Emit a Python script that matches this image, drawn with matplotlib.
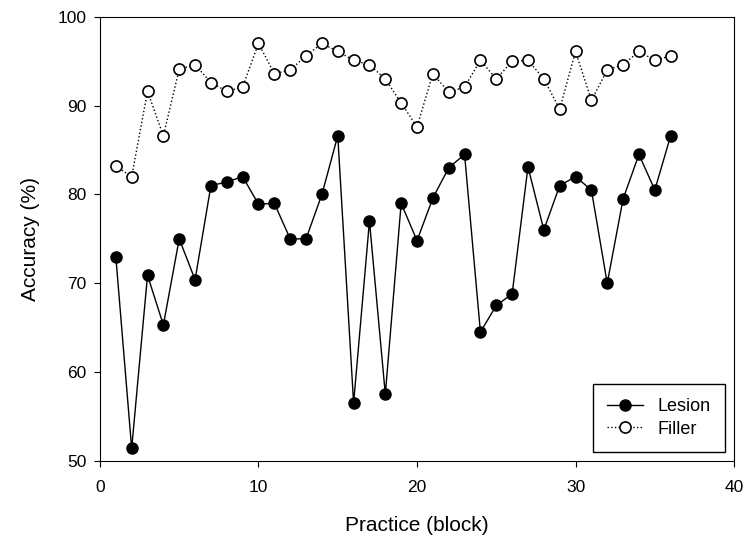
import matplotlib
matplotlib.use("Agg")
import matplotlib.pyplot as plt

plt.rcParams['font.family'] = ['Liberation Sans', 'DejaVu Sans']

blocks = list(range(1, 37))
lesion = [73.0, 51.4, 70.9, 65.3, 75.0, 70.4, 81.0, 81.4, 82.0, 78.9,
          79.0, 75.0, 75.0, 80.0, 86.6, 56.5, 77.0, 57.5, 79.0, 74.8,
          79.6, 83.0, 84.5, 64.5, 67.5, 68.8, 83.1, 76.0, 81.0, 82.0,
          80.5, 70.0, 79.5, 84.5, 80.5, 86.6]
filler = [83.2, 82.0, 91.6, 86.6, 94.1, 94.6, 92.6, 91.6, 92.1, 97.0,
          93.6, 94.0, 95.6, 97.0, 96.1, 95.1, 94.6, 93.0, 90.3, 87.6,
          93.6, 91.5, 92.1, 95.1, 93.0, 95.0, 95.1, 93.0, 89.6, 96.1,
          90.6, 94.0, 94.6, 96.1, 95.1, 95.6]

fig = plt.figure(figsize=(7.46, 5.41), dpi=100)
ax = fig.add_axes([0.134, 0.148, 0.850, 0.821])

ax.plot(blocks, lesion, color='black', linestyle='-', linewidth=1,
        marker='o', markersize=8, markerfacecolor='black',
        markeredgecolor='black', label='Lesion')
ax.plot(blocks, filler, color='black', linestyle=':', linewidth=1,
        marker='o', markersize=8, markerfacecolor='white',
        markeredgecolor='black', markeredgewidth=1.2, label='Filler')

ax.set_xlim(0, 40)
ax.set_ylim(50, 100)
ax.set_xticks([0, 10, 20, 30, 40])
ax.set_yticks([50, 60, 70, 80, 90, 100])
ax.tick_params(direction='out', length=4.5, labelsize=12.5, top=False, right=False)
ax.tick_params(axis='x', pad=9)
ax.tick_params(axis='y', pad=5)
ax.set_xlabel('Practice (block)', fontsize=15, labelpad=15)
ax.set_ylabel('Accuracy (%)', fontsize=15, labelpad=13)

leg = ax.legend(loc='lower right', fontsize=13, frameon=True, fancybox=False,
                edgecolor='black', framealpha=1, borderpad=0.8,
                handlelength=2.0, labelspacing=0.3, borderaxespad=0,
                bbox_to_anchor=(0.986, 0.02))
leg.get_frame().set_linewidth(1)

fig.savefig('out.png', dpi=100)
